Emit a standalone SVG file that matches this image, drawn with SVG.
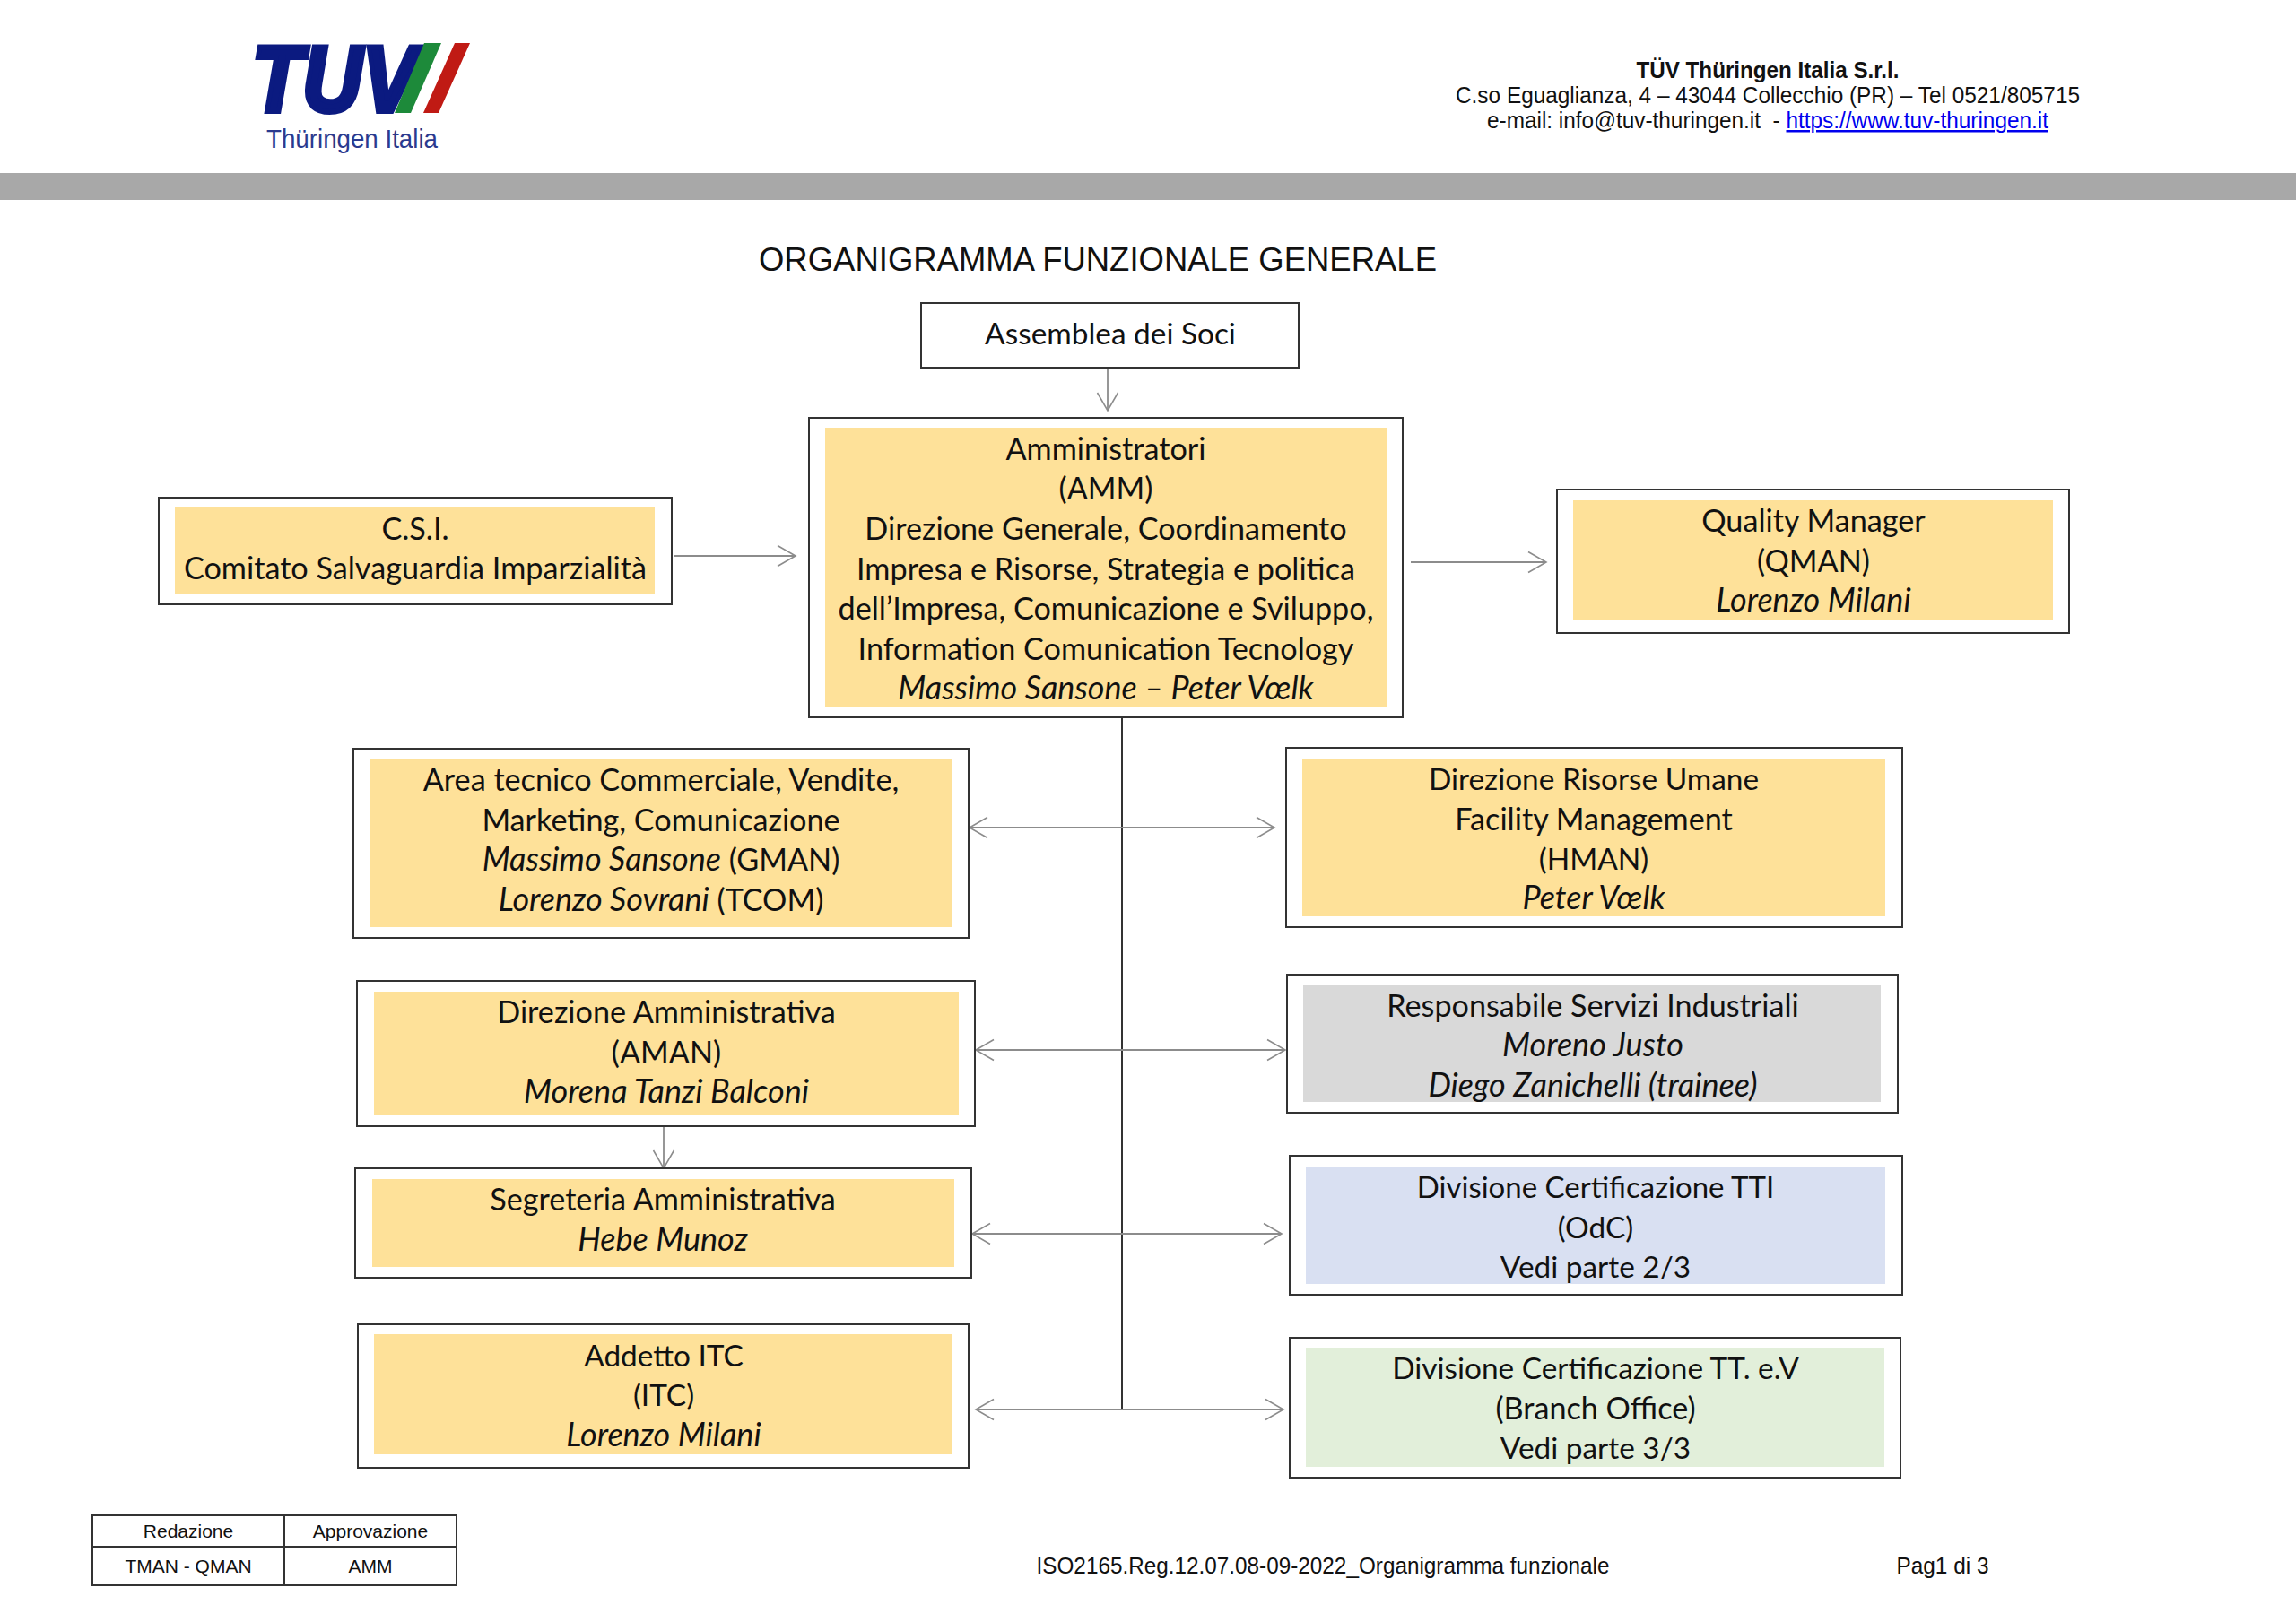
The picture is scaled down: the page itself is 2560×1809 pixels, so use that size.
<svg xmlns="http://www.w3.org/2000/svg" width="2560" height="1809" viewBox="0 0 2560 1809">
<style>
.b{fill:#fff;stroke:#333;stroke-width:2}
.y{fill:#fee199}.g{fill:#d9d9d9}.l{fill:#d9e0f2}.v{fill:#e2efda}
text{fill:#111}
.t{font-family:Lato,"Noto Sans",sans-serif;font-size:34.2px;text-anchor:middle}
.n{font-size:33.4px}
.i{font-style:italic;font-size:36px}
.a{font-family:"Liberation Sans",Arial,sans-serif;text-anchor:middle}
.c{fill:none;stroke:#8c8c8c;stroke-width:1.8}
.m{fill:none;stroke:#8c8c8c;stroke-width:1.6}
</style>
<defs>
<marker id="h" markerUnits="userSpaceOnUse" markerWidth="30" markerHeight="30" viewBox="-24 -15 30 30" refX="0" refY="0" orient="auto-start-reverse"><path class="m" d="M-20,-11.5L0,0L-20,11.5"/></marker>
</defs>
<rect width="2560" height="1809" fill="#fff"/>
<rect id="band" x="0" y="193" width="2560" height="30" fill="#a8a8a8"/>
<g id="logo">
<text x="281" y="124" font-family="Liberation Sans,sans-serif" font-weight="700" font-style="italic" font-size="104" textLength="184" lengthAdjust="spacingAndGlyphs" style="fill:#0b1a80;stroke:#0b1a80;stroke-width:6">TUV</text>
<polygon points="473,48 492,48 458,126 440,126" fill="#1d8a3a"/>
<polygon points="507,48 524,48 489,126 472,126" fill="#c01a14"/>
<text x="297" y="165" font-family="Liberation Sans,sans-serif" font-size="29" textLength="191" lengthAdjust="spacingAndGlyphs" style="fill:#2a3a8f">Thüringen Italia</text>
</g>
<g id="header">
<text class="a" x="1971" y="87" font-size="25" font-weight="700" textLength="293" lengthAdjust="spacingAndGlyphs">TÜV Thüringen Italia S.r.l.</text>
<text class="a" x="1971" y="115" font-size="25" textLength="696" lengthAdjust="spacingAndGlyphs">C.so Eguaglianza, 4 – 43044 Collecchio (PR) – Tel 0521/805715</text>
<text class="a" x="1971" y="143" font-size="25" textLength="626" lengthAdjust="spacingAndGlyphs">e-mail: info@tuv-thuringen.it &#160;- <tspan style="fill:#0000ee;text-decoration:underline">https://www.tuv-thuringen.it</tspan></text>
</g>
<text id="title" class="a" x="1224" y="302" font-size="37" textLength="756" lengthAdjust="spacingAndGlyphs">ORGANIGRAMMA FUNZIONALE GENERALE</text>
<g id="connectors">
<line style="stroke:#333;stroke-width:2" x1="1251" y1="800" x2="1251" y2="1573"/>
<line class="c" x1="1235" y1="412" x2="1235" y2="458" marker-end="url(#h)"/>
<line class="c" x1="752" y1="620" x2="887" y2="620" marker-end="url(#h)"/>
<line class="c" x1="1573" y1="627" x2="1724" y2="627" marker-end="url(#h)"/>
<line class="c" x1="1081" y1="923" x2="1421" y2="923" marker-start="url(#h)" marker-end="url(#h)"/>
<line class="c" x1="1088" y1="1171" x2="1433" y2="1171" marker-start="url(#h)" marker-end="url(#h)"/>
<line class="c" x1="1084" y1="1376" x2="1429" y2="1376" marker-start="url(#h)" marker-end="url(#h)"/>
<line class="c" x1="1088" y1="1572" x2="1431" y2="1572" marker-start="url(#h)" marker-end="url(#h)"/>
<line class="c" x1="740" y1="1256" x2="740" y2="1303" marker-end="url(#h)"/>
</g>
<g id="assemblea"><rect class="b" x="1027" y="338" width="421" height="72"/>
<text class="t n" x="1238" y="384">Assemblea dei Soci</text></g>
<g id="amm"><rect class="b" x="902" y="466" width="662" height="334"/><rect class="y" x="920" y="477" width="626" height="311"/>
<text class="t" x="1233" y="513">Amministratori</text>
<text class="t" x="1233" y="557">(AMM)</text>
<text class="t" x="1233" y="602">Direzione Generale, Coordinamento</text>
<text class="t" x="1233" y="647">Impresa e Risorse, Strategia e politica</text>
<text class="t" x="1233" y="691">dell’Impresa, Comunicazione e Sviluppo,</text>
<text class="t" x="1233" y="736">Information Comunication Tecnology</text>
<text class="t i" x="1233" y="780">Massimo Sansone – Peter Vœlk</text></g>
<g id="csi"><rect class="b" x="177" y="555" width="572" height="119"/><rect class="y" x="195" y="566" width="535" height="97"/>
<text class="t" x="463" y="602">C.S.I.</text>
<text class="t" x="463" y="646">Comitato Salvaguardia Imparzialità</text></g>
<g id="qman"><rect class="b" x="1736" y="546" width="571" height="160"/><rect class="y" x="1754" y="558" width="535" height="133"/>
<text class="t" x="2022" y="593">Quality Manager</text>
<text class="t" x="2022" y="638">(QMAN)</text>
<text class="t i" x="2022" y="682">Lorenzo Milani</text></g>
<g id="area"><rect class="b" x="394" y="835" width="686" height="211"/><rect class="y" x="412" y="847" width="650" height="187"/>
<text class="t" x="737" y="882">Area tecnico Commerciale, Vendite,</text>
<text class="t" x="737" y="927">Marketing, Comunicazione</text>
<text class="t" x="737" y="971"><tspan class="i">Massimo Sansone</tspan> (GMAN)</text>
<text class="t" x="737" y="1016"><tspan class="i">Lorenzo Sovrani</tspan> (TCOM)</text></g>
<g id="hman"><rect class="b" x="1434" y="834" width="687" height="200"/><rect class="y" x="1452" y="846" width="650" height="176"/>
<text class="t n" x="1777" y="881">Direzione Risorse Umane</text>
<text class="t" x="1777" y="926">Facility Management</text>
<text class="t n" x="1777" y="970">(HMAN)</text>
<text class="t i" x="1777" y="1014">Peter Vœlk</text></g>
<g id="aman"><rect class="b" x="398" y="1094" width="689" height="162"/><rect class="y" x="417" y="1106" width="652" height="138"/>
<text class="t" x="743" y="1141">Direzione Amministrativa</text>
<text class="t" x="743" y="1186">(AMAN)</text>
<text class="t i" x="743" y="1230">Morena Tanzi Balconi</text></g>
<g id="resp"><rect class="b" x="1435" y="1087" width="681" height="154"/><rect class="g" x="1453" y="1099" width="644" height="130"/>
<text class="t" x="1776" y="1134">Responsabile Servizi Industriali</text>
<text class="t i" x="1776" y="1178">Moreno Justo</text>
<text class="t i" x="1776" y="1223">Diego Zanichelli (trainee)</text></g>
<g id="segreteria"><rect class="b" x="396" y="1303" width="687" height="122"/><rect class="y" x="415" y="1315" width="649" height="98"/>
<text class="t" x="739" y="1350">Segreteria Amministrativa</text>
<text class="t i" x="739" y="1395">Hebe Munoz</text></g>
<g id="odc"><rect class="b" x="1438" y="1289" width="683" height="155"/><rect class="l" x="1456" y="1301" width="646" height="131"/>
<text class="t" style="font-size:33px" x="1779" y="1336">Divisione Certificazione TTI</text>
<text class="t n" x="1779" y="1381">(OdC)</text>
<text class="t n" x="1779" y="1425">Vedi parte 2/3</text></g>
<g id="itc"><rect class="b" x="399" y="1477" width="681" height="160"/><rect class="y" x="417" y="1488" width="645" height="134"/>
<text class="t n" x="740" y="1524">Addetto ITC</text>
<text class="t n" x="740" y="1568">(ITC)</text>
<text class="t i" x="740" y="1613">Lorenzo Milani</text></g>
<g id="tt"><rect class="b" x="1438" y="1492" width="681" height="156"/><rect class="v" x="1456" y="1503" width="645" height="133"/>
<text class="t n" x="1779" y="1538">Divisione Certificazione TT. e.V</text>
<text class="t" x="1779" y="1583">(Branch Office)</text>
<text class="t n" x="1779" y="1627">Vedi parte 3/3</text></g>
<g id="table">
<rect x="103" y="1690" width="406" height="78" fill="none" stroke="#333" stroke-width="2"/>
<line x1="103" y1="1725" x2="509" y2="1725" stroke="#333" stroke-width="2"/>
<line x1="317" y1="1690" x2="317" y2="1768" stroke="#333" stroke-width="2"/>
<text class="a" x="210" y="1715" font-size="21">Redazione</text>
<text class="a" x="413" y="1715" font-size="21">Approvazione</text>
<text class="a" x="210" y="1754" font-size="21">TMAN - QMAN</text>
<text class="a" x="413" y="1754" font-size="21">AMM</text>
</g>
<g id="footer">
<text class="a" x="1475" y="1755" font-size="25" textLength="639" lengthAdjust="spacingAndGlyphs">ISO2165.Reg.12.07.08-09-2022_Organigramma funzionale</text>
<text class="a" x="2166" y="1755" font-size="25" textLength="103" lengthAdjust="spacingAndGlyphs">Pag1 di 3</text>
</g>
</svg>
